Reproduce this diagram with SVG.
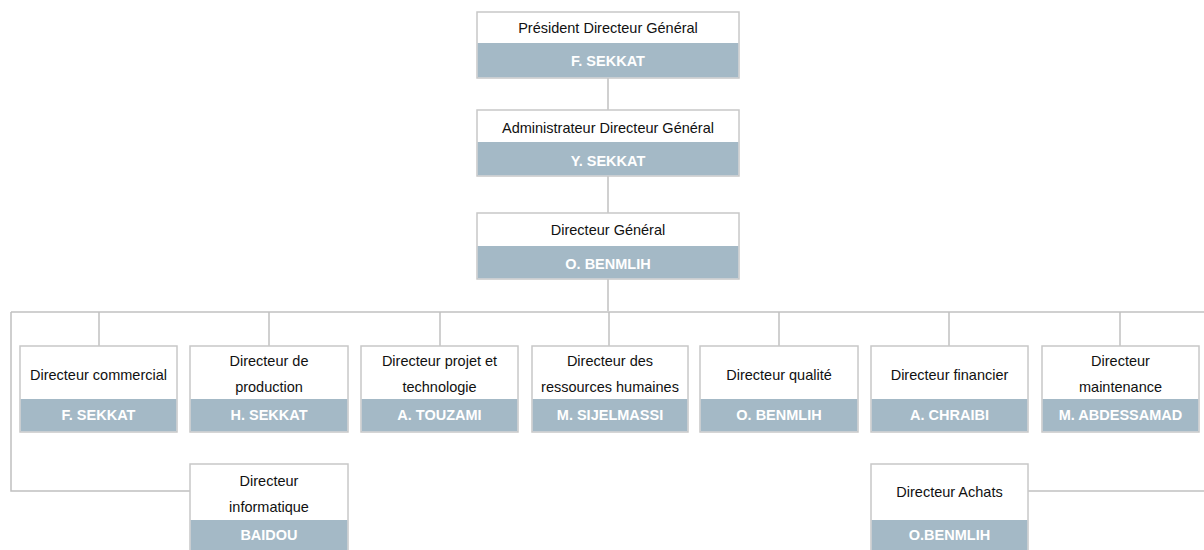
<svg xmlns="http://www.w3.org/2000/svg" width="1204" height="550" viewBox="0 0 1204 550">
  <style>
    .box { fill: #ffffff; stroke: #c8c8c8; stroke-width: 1.5; }
    .band { fill: #a4b9c6; }
    .title { font-family: "Liberation Sans Narrow", "Liberation Sans", sans-serif; font-size: 14.5px; fill: #111111; text-anchor: middle; }
    .name { font-family: "Liberation Sans Narrow", "Liberation Sans", sans-serif; font-size: 14.5px; font-weight: bold; fill: #ffffff; text-anchor: middle; }
    .link { fill: none; stroke: #c0c0c0; stroke-width: 1.5; }
  </style>

  <!-- connectors -->
  <g id="connectors">
    <path class="link" d="M608 78 V110"/>
    <path class="link" d="M608 176 V213"/>
    <path class="link" d="M608 279 V311"/>
    <path class="link" d="M11 312 H1204"/>
    <path class="link" d="M99 312 V346"/>
    <path class="link" d="M269 312 V346"/>
    <path class="link" d="M440 312 V346"/>
    <path class="link" d="M609 312 V346"/>
    <path class="link" d="M779 312 V346"/>
    <path class="link" d="M949 312 V346"/>
    <path class="link" d="M1120 312 V346"/>
    <path class="link" d="M11 312 V491 H190"/>
    <path class="link" d="M1028 491 H1204"/>
  </g>

  <!-- top management -->
  <g id="pdg">
    <rect class="box" x="477" y="12" width="262" height="66"/>
    <rect class="band" x="477.75" y="43" width="260.5" height="34.25"/>
    <text class="title" x="608" y="33">Président Directeur  Général</text>
    <text class="name" x="608" y="66">F. SEKKAT</text>
  </g>
  <g id="adg">
    <rect class="box" x="477" y="110" width="262" height="66"/>
    <rect class="band" x="477.75" y="142" width="260.5" height="33.25"/>
    <text class="title" x="608" y="133">Administrateur Directeur Général</text>
    <text class="name" x="608" y="166">Y. SEKKAT</text>
  </g>
  <g id="dg">
    <rect class="box" x="477" y="213" width="262" height="66"/>
    <rect class="band" x="477.75" y="246" width="260.5" height="32.25"/>
    <text class="title" x="608" y="235">Directeur Général</text>
    <text class="name" x="608" y="269">O. BENMLIH</text>
  </g>

  <!-- directors -->
  <g id="dir-commercial">
    <rect class="box" x="20" y="346" width="157" height="86"/>
    <rect class="band" x="20.75" y="399" width="155.5" height="32.25"/>
    <text class="title" x="98.5" y="380">Directeur commercial</text>
    <text class="name" x="98.5" y="420">F. SEKKAT</text>
  </g>
  <g id="dir-production">
    <rect class="box" x="190" y="346" width="158" height="86"/>
    <rect class="band" x="190.75" y="399" width="156.5" height="32.25"/>
    <text class="title" x="269" y="366">Directeur de</text>
    <text class="title" x="269" y="392">production</text>
    <text class="name" x="269" y="420">H. SEKKAT</text>
  </g>
  <g id="dir-projet">
    <rect class="box" x="361" y="346" width="157" height="86"/>
    <rect class="band" x="361.75" y="399" width="155.5" height="32.25"/>
    <text class="title" x="439.5" y="366">Directeur projet  et</text>
    <text class="title" x="439.5" y="392">technologie</text>
    <text class="name" x="439.5" y="420">A. TOUZAMI</text>
  </g>
  <g id="dir-rh">
    <rect class="box" x="532" y="346" width="156" height="86"/>
    <rect class="band" x="532.75" y="399" width="154.5" height="32.25"/>
    <text class="title" x="610" y="366">Directeur des</text>
    <text class="title" x="610" y="392">ressources humaines</text>
    <text class="name" x="610" y="420">M. SIJELMASSI</text>
  </g>
  <g id="dir-qualite">
    <rect class="box" x="700" y="346" width="158" height="86"/>
    <rect class="band" x="700.75" y="399" width="156.5" height="32.25"/>
    <text class="title" x="779" y="380">Directeur qualité</text>
    <text class="name" x="779" y="420">O. BENMLIH</text>
  </g>
  <g id="dir-financier">
    <rect class="box" x="871" y="346" width="157" height="86"/>
    <rect class="band" x="871.75" y="399" width="155.5" height="32.25"/>
    <text class="title" x="949.5" y="380">Directeur financier</text>
    <text class="name" x="949.5" y="420">A. CHRAIBI</text>
  </g>
  <g id="dir-maintenance">
    <rect class="box" x="1042" y="346" width="157" height="86"/>
    <rect class="band" x="1042.75" y="399" width="155.5" height="32.25"/>
    <text class="title" x="1120.5" y="366">Directeur</text>
    <text class="title" x="1120.5" y="392">maintenance</text>
    <text class="name" x="1120.5" y="420">M. ABDESSAMAD</text>
  </g>

  <!-- lower row -->
  <g id="dir-informatique">
    <rect class="box" x="190" y="464" width="158" height="92"/>
    <rect class="band" x="190.75" y="520" width="156.5" height="35"/>
    <text class="title" x="269" y="486">Directeur</text>
    <text class="title" x="269" y="512">informatique</text>
    <text class="name" x="269" y="540">BAIDOU</text>
  </g>
  <g id="dir-achats">
    <rect class="box" x="871" y="464" width="157" height="92"/>
    <rect class="band" x="871.75" y="520" width="155.5" height="35"/>
    <text class="title" x="949.5" y="497">Directeur Achats</text>
    <text class="name" x="949.5" y="540">O.BENMLIH</text>
  </g>
</svg>
